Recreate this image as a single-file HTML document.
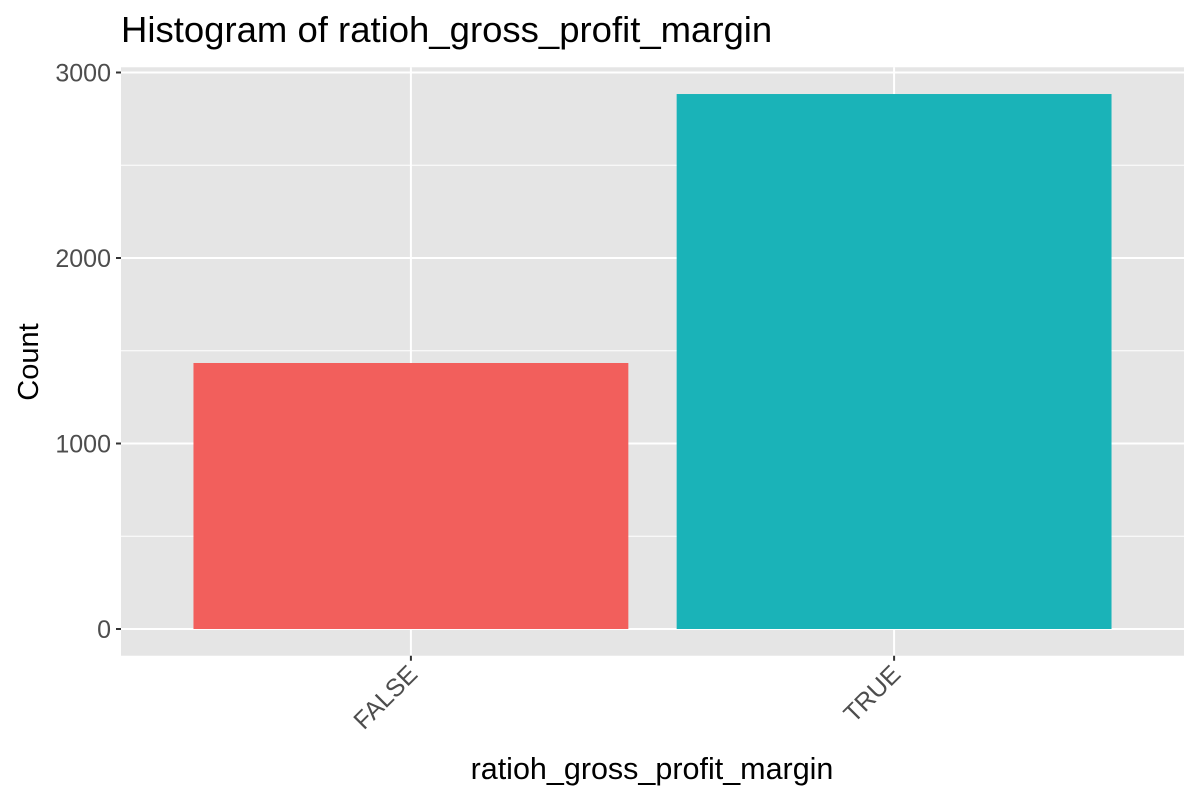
<!DOCTYPE html>
<html><head><meta charset="utf-8"><style>
body{margin:0;background:#fff;}
svg text{font-family:"Liberation Sans",Arial,sans-serif;}
</style></head><body>
<svg id="chart" width="1200" height="800" viewBox="0 0 1200 800" xmlns="http://www.w3.org/2000/svg">
<text x="121" y="42" font-size="36.5" fill="#000">Histogram of ratioh_gross_profit_margin</text>
<rect id="panel" fill="#e5e5e5"/>
<g id="grid"></g><g id="bars"></g><g id="axes"></g>
<text x="652" y="779" font-size="30.5" text-anchor="middle" fill="#000">ratioh_gross_profit_margin</text>
<text transform="translate(38,362) rotate(-90)" font-size="29" text-anchor="middle" fill="#000">Count</text>
</svg>
<script>
const categories=["FALSE","TRUE"];
const counts=[1434,2884];
const colors=["#f25f5c","#1ab3b8"];
const yTicks=[0,1000,2000,3000];
const NS="http://www.w3.org/2000/svg";
const L=121,R=1184,zeroY=629,pxPer=0.1855;
const maxV=Math.max(...counts);
const yTop=zeroY-maxV*1.05*pxPer, yBot=zeroY+maxV*0.05*pxPer;
const y=v=>zeroY-v*pxPer;
const step=(R-L)/(categories.length+0.2);
const x=i=>L+step*(0.6+i);
function mk(t,a,p){const e=document.createElementNS(NS,t);for(const k in a)e.setAttribute(k,a[k]);p.appendChild(e);return e;}
const panel=document.getElementById('panel');
panel.setAttribute('x',L);panel.setAttribute('y',yTop);panel.setAttribute('width',R-L);panel.setAttribute('height',yBot-yTop);
const g=document.getElementById('grid'),b=document.getElementById('bars'),ax=document.getElementById('axes');
for(let i=0;i<yTicks.length-1;i++){const m=(yTicks[i]+yTicks[i+1])/2;
 const l=mk('line',{x1:L,x2:R,y1:y(m),y2:y(m),stroke:'#fff','stroke-width':1},g);
 
 }
yTicks.forEach(t=>{
 const l=mk('line',{x1:L,x2:R,y1:y(t),y2:y(t),stroke:'#fff','stroke-width':2},g);
 
 
 const tk=mk('line',{x1:L-5,x2:L,y1:y(t),y2:y(t),stroke:'#333','stroke-width':2},ax);
 
 
 const tx=mk('text',{x:L-10,y:y(t)+9,'font-size':25,'text-anchor':'end',fill:'#4d4d4d'},ax);
 tx.textContent=t;
 
 
});
categories.forEach((c,i)=>{
 const cx=x(i);
 const l=mk('line',{x1:cx,x2:cx,y1:yTop,y2:yBot,stroke:'#fff','stroke-width':2},g);
 
 
 const w=step*0.9;
 const r=mk('rect',{x:cx-w/2,y:y(counts[i]),width:w,height:zeroY-y(counts[i]),fill:colors[i]},b);
 
 
 const tk=mk('line',{x1:cx,x2:cx,y1:yBot,y2:yBot+5,stroke:'#333','stroke-width':2},ax);
 
 
 const tx=mk('text',{transform:`translate(${cx+8},${yBot+20}) rotate(-45)`,'font-size':25,'text-anchor':'end',fill:'#4d4d4d'},ax);
 tx.textContent=c;
 
 
});
</script>
</body></html>
